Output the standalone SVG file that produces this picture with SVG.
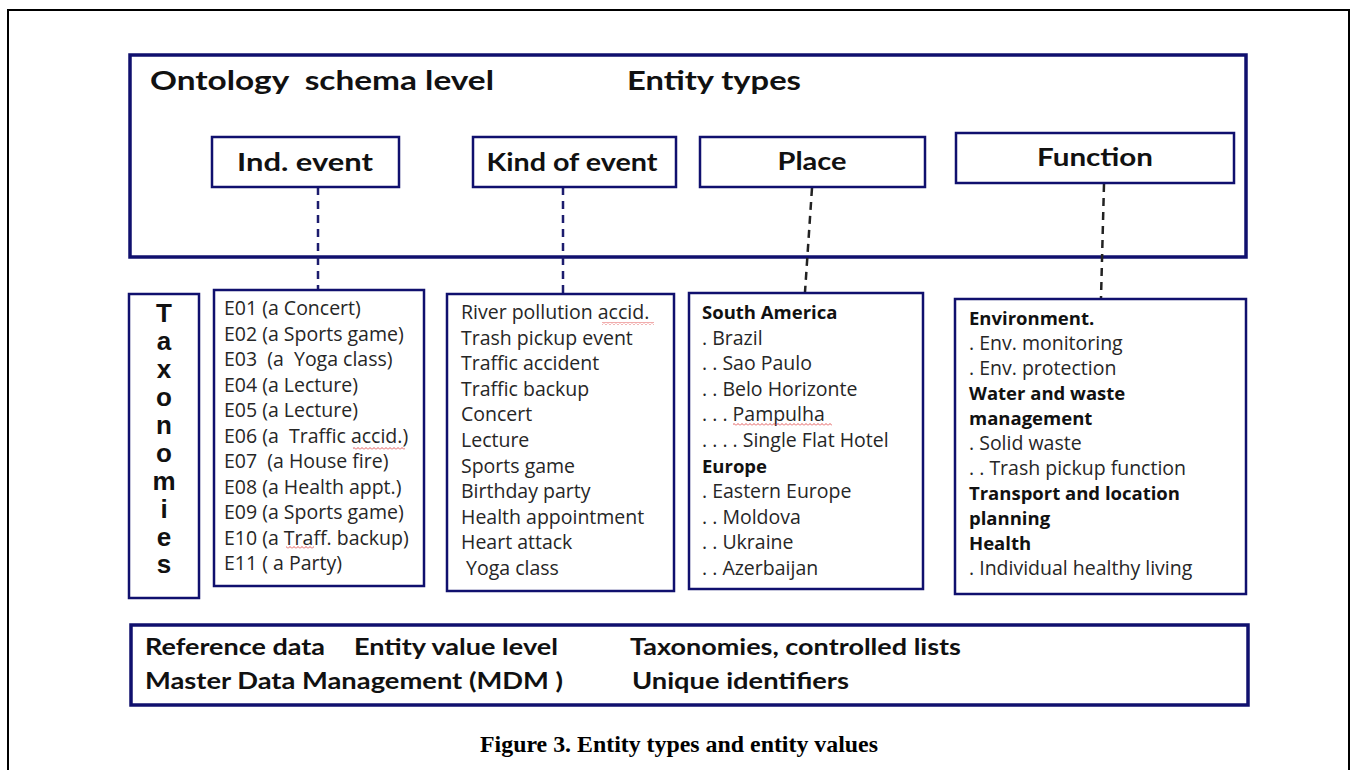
<svg xmlns="http://www.w3.org/2000/svg" width="1351" height="770" viewBox="0 0 1351 770">
<style>
.frame{fill:none;stroke:#000;stroke-width:2}
.box{fill:#fff;stroke:#10106e;stroke-width:2.5}
.big{fill:#fff;stroke:#10106e;stroke-width:3.5}
.h{font-family:Lato,"Open Sans",sans-serif;font-weight:bold;fill:#111;white-space:pre}
.t{font-family:"Open Sans","Noto Sans",sans-serif;font-size:19.5px;fill:#262626;white-space:pre}
.b{font-weight:bold;font-size:18.5px;fill:#111}
.tax{font-family:"Liberation Sans",Arial,sans-serif;font-weight:bold;font-size:26px;fill:#111;text-anchor:middle}
.cap{font-family:"Liberation Serif","Times New Roman",serif;font-weight:bold;font-size:24px;fill:#000}
.dn{stroke:#1c1c6e;stroke-width:2.5;stroke-dasharray:8 6;fill:none}
.dk{stroke:#222;stroke-width:2.5;stroke-dasharray:8 6;fill:none}
</style>
<defs>
<pattern id="wave" x="0" y="0" width="4" height="3" patternUnits="userSpaceOnUse">
<path d="M0,2.5 L2,0.5 L4,2.5" fill="none" stroke="#e04848" stroke-width="0.9"/>
</pattern>
</defs>
<rect x="0" y="0" width="1351" height="770" fill="#fff"/>
<path class="frame" d="M8,772 V10 H1349 V772"/>

<g id="schema">
<rect class="big" x="130" y="55" width="1116" height="202"/>
<text class="h" x="150" y="90" font-size="26" textLength="344" lengthAdjust="spacingAndGlyphs">Ontology  schema level</text>
<text class="h" x="627" y="90" font-size="26" textLength="174" lengthAdjust="spacingAndGlyphs">Entity types</text>
</g>

<g id="connectors">
<line class="dn" x1="318" y1="187" x2="318" y2="290"/>
<line class="dn" x1="563" y1="187" x2="563" y2="293"/>
<line class="dk" x1="812" y1="188" x2="805" y2="292"/>
<line class="dk" x1="1104" y1="184" x2="1101" y2="298"/>
</g>

<g id="node-ind-event">
<rect class="box" x="212" y="137" width="187" height="50"/>
<text class="h" x="305" y="171" font-size="24" text-anchor="middle" textLength="136" lengthAdjust="spacingAndGlyphs">Ind. event</text>
</g>
<g id="node-kind-of-event">
<rect class="box" x="473" y="137" width="203" height="50"/>
<text class="h" x="572" y="171" font-size="24" text-anchor="middle" textLength="171" lengthAdjust="spacingAndGlyphs">Kind of event</text>
</g>
<g id="node-place">
<rect class="box" x="700" y="137" width="225" height="50"/>
<text class="h" x="812" y="170" font-size="24" text-anchor="middle" textLength="69" lengthAdjust="spacingAndGlyphs">Place</text>
</g>
<g id="node-function">
<rect class="box" x="956" y="133" width="278" height="50"/>
<text class="h" x="1095" y="166" font-size="24" text-anchor="middle" textLength="116" lengthAdjust="spacingAndGlyphs">Function</text>
</g>

<g id="taxonomies">
<rect class="box" x="129" y="294" width="70" height="304"/>
<text class="tax" x="164" y="322">T</text>
<text class="tax" x="164" y="350">a</text>
<text class="tax" x="164" y="378">x</text>
<text class="tax" x="164" y="406">o</text>
<text class="tax" x="164" y="434">n</text>
<text class="tax" x="164" y="462">o</text>
<text class="tax" x="164" y="490">m</text>
<text class="tax" x="164" y="518">i</text>
<text class="tax" x="164" y="546">e</text>
<text class="tax" x="164" y="573">s</text>
</g>

<g id="list-ind-event">
<rect class="box" x="214" y="290" width="210" height="296"/>
<text class="t" x="224" y="315">E01 (a Concert)</text>
<text class="t" x="224" y="340.5">E02 (a Sports game)</text>
<text class="t" x="224" y="366">E03  (a  Yoga class)</text>
<text class="t" x="224" y="391.5">E04 (a Lecture)</text>
<text class="t" x="224" y="417">E05 (a Lecture)</text>
<text class="t" x="224" y="442.5">E06 (a  Traffic accid.)</text>
<text class="t" x="224" y="468">E07  (a House fire)</text>
<text class="t" x="224" y="493.5">E08 (a Health appt.)</text>
<text class="t" x="224" y="519">E09 (a Sports game)</text>
<text class="t" x="224" y="544.5">E10 (a Traff. backup)</text>
<text class="t" x="224" y="570">E11 ( a Party)</text>
<rect x="353" y="447" width="52" height="3" fill="url(#wave)"/>
<rect x="286" y="546" width="28" height="3" fill="url(#wave)"/>
</g>

<g id="list-kind-of-event">
<rect class="box" x="447" y="294" width="227" height="297"/>
<text class="t" x="461" y="319">River pollution accid.</text>
<text class="t" x="461" y="344.6">Trash pickup event</text>
<text class="t" x="461" y="370.2">Traffic accident</text>
<text class="t" x="461" y="395.8">Traffic backup</text>
<text class="t" x="461" y="421.4">Concert</text>
<text class="t" x="461" y="447">Lecture</text>
<text class="t" x="461" y="472.6">Sports game</text>
<text class="t" x="461" y="498.2">Birthday party</text>
<text class="t" x="461" y="523.8">Health appointment</text>
<text class="t" x="461" y="549.4">Heart attack</text>
<text class="t" x="461" y="575"> Yoga class</text>
<rect x="602" y="322" width="52" height="3" fill="url(#wave)"/>
</g>

<g id="list-place">
<rect class="box" x="689" y="293" width="234" height="296"/>
<text class="t b" x="702" y="319">South America</text>
<text class="t" x="702" y="344.6">. Brazil</text>
<text class="t" x="702" y="370.2">. . Sao Paulo</text>
<text class="t" x="702" y="395.8">. . Belo Horizonte</text>
<text class="t" x="702" y="421.4">. . . Pampulha</text>
<text class="t" x="702" y="447">. . . . Single Flat Hotel</text>
<text class="t b" x="702" y="472.6">Europe</text>
<text class="t" x="702" y="498.2">. Eastern Europe</text>
<text class="t" x="702" y="523.8">. . Moldova</text>
<text class="t" x="702" y="549.4">. . Ukraine</text>
<text class="t" x="702" y="575">. . Azerbaijan</text>
<rect x="733" y="423" width="99" height="3" fill="url(#wave)"/>
</g>

<g id="list-function">
<rect class="box" x="955" y="299" width="291" height="295"/>
<text class="t b" x="969" y="325">Environment.</text>
<text class="t" x="969" y="350">. Env. monitoring</text>
<text class="t" x="969" y="375">. Env. protection</text>
<text class="t b" x="969" y="400">Water and waste</text>
<text class="t b" x="969" y="425">management</text>
<text class="t" x="969" y="450">. Solid waste</text>
<text class="t" x="969" y="475">. . Trash pickup function</text>
<text class="t b" x="969" y="500">Transport and location</text>
<text class="t b" x="969" y="525">planning</text>
<text class="t b" x="969" y="550">Health</text>
<text class="t" x="969" y="575">. Individual healthy living</text>
</g>

<g id="reference-data">
<rect class="big" x="131" y="625" width="1117" height="80"/>
<text class="h" x="145" y="655" font-size="22" textLength="180" lengthAdjust="spacingAndGlyphs">Reference data</text>
<text class="h" x="354" y="655" font-size="22" textLength="204" lengthAdjust="spacingAndGlyphs">Entity value level</text>
<text class="h" x="630" y="655" font-size="22" textLength="331" lengthAdjust="spacingAndGlyphs">Taxonomies, controlled lists</text>
<text class="h" x="145" y="689" font-size="22" textLength="418" lengthAdjust="spacingAndGlyphs">Master Data Management (MDM )</text>
<text class="h" x="632" y="689" font-size="22" textLength="217" lengthAdjust="spacingAndGlyphs">Unique identifiers</text>
</g>

<text class="cap" x="480" y="752" textLength="398" lengthAdjust="spacingAndGlyphs">Figure 3. Entity types and entity values</text>
</svg>
